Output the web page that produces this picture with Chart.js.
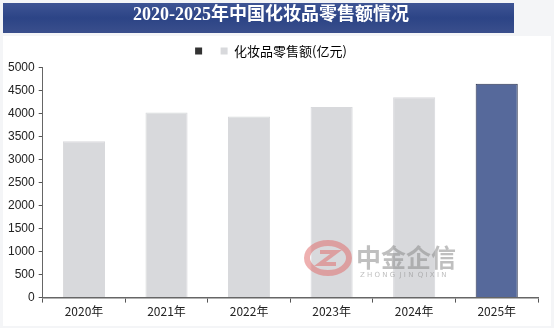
<!DOCTYPE html>
<html>
<head>
<meta charset="utf-8">
<script src="https://cdn.jsdelivr.net/npm/chart.js@4"></script>
<style>
  html, body { margin: 0; padding: 0; background: #f4f5f7; }
  #wrap { width: 554px; height: 328px; position: relative; }
</style>
</head>
<body>
<div id="wrap"><canvas id="salesChart" width="554" height="328"></canvas></div>
<script>
// 数据
const years = ["2020年", "2021年", "2022年", "2023年", "2024年", "2025年"];
const sales = [3400, 4026, 3936, 4142, 4357, 4650];
const yTicks = [0, 500, 1000, 1500, 2000, 2500, 3000, 3500, 4000, 4500, 5000];
const titleText = "2020-2025年中国化妆品零售额情况";
const seriesName = "化妆品零售额(亿元)";

const grey = "#d8d9dc";
const blue = "#56699b";
const barColors = years.map((y, i) => i === years.length - 1 ? blue : grey);
const borderColors = years.map((y, i) => i === years.length - 1 ? "#2d3550" : grey);

// 标题横幅 + 水印
const decor = {
  id: 'decor',
  beforeDraw(chart) {
    const ctx = chart.ctx;
    ctx.save();
    ctx.fillStyle = "#ffffff";
    ctx.fillRect(3, 36, 548, 290);
    const g = ctx.createLinearGradient(0, 3, 0, 33);
    g.addColorStop(0, "#3e5494");
    g.addColorStop(0.5, "#2c4486");
    g.addColorStop(1, "#3a4f8c");
    ctx.fillStyle = g;
    ctx.fillRect(3, 3, 511, 30);
    ctx.restore();
  },
  afterDatasetsDraw(chart) {
    const ctx = chart.ctx;
    ctx.save();
    ctx.globalAlpha = 0.55;
    ctx.strokeStyle = "#e07070";
    ctx.lineWidth = 6;
    ctx.beginPath();
    ctx.ellipse(328, 258, 21, 15, 0, 0, Math.PI * 2);
    ctx.stroke();
    ctx.lineWidth = 4;
    ctx.beginPath();
    ctx.moveTo(320, 252); ctx.lineTo(336, 252); ctx.lineTo(320, 264); ctx.lineTo(336, 264);
    ctx.stroke();
    ctx.fillStyle = "#8a8a8a";
    ctx.font = "bold 25px 'Noto Sans CJK SC'";
    ctx.textBaseline = "middle";
    ctx.fillText("中金企信", 356, 257);
    ctx.font = "7px 'DejaVu Sans'";
    ctx.fillText("Z H O N G  J I N  Q I X I N", 360, 275);
    ctx.restore();
  }
};

new Chart("salesChart", {
  type: "bar",
  data: {
    labels: years,
    datasets: [{
      label: seriesName,
      data: sales,
      backgroundColor: barColors,
      borderColor: borderColors,
      borderWidth: 1,
      barPercentage: 0.51,
      categoryPercentage: 1
    }]
  },
  plugins: [decor],
  options: {
    responsive: false,
    animation: false,
    layout: { padding: { left: 4, right: 16, top: 0, bottom: 7 } },
    plugins: {
      title: {
        display: true,
        text: titleText,
        color: "#ffffff",
        font: { family: "'Liberation Serif', 'Noto Sans CJK SC'", size: 18, weight: "bold" },
        padding: { top: 5, bottom: 6 },
        align: "center"
      },
      legend: {
        display: true,
        labels: {
          color: "#333",
          font: { family: "'Noto Sans CJK SC'", size: 13 },
          boxWidth: 7,
          boxHeight: 7,
          padding: 12,
          generateLabels(chart) {
            return [
              { text: "", fillStyle: "#333", strokeStyle: "#333", lineWidth: 0 },
              { text: seriesName, fillStyle: grey, strokeStyle: grey, lineWidth: 0 }
            ];
          }
        }
      },
      tooltip: { enabled: false }
    },
    scales: {
      x: {
        grid: {
          display: true,
          drawOnChartArea: false,
          drawTicks: true,
          tickLength: 5,
          color: "#555",
          offset: true
        },
        border: { color: "#666", width: 1.5 },
        ticks: { color: "#222", font: { family: "'Noto Sans CJK SC'", size: 12 }, padding: 2 }
      },
      y: {
        min: 0,
        max: 5000,
        afterBuildTicks(axis) { axis.ticks = yTicks.map(v => ({ value: v })); },
        grid: { drawOnChartArea: false, drawTicks: true, tickLength: 4, color: "#555" },
        border: { color: "#666", width: 1 },
        ticks: {
          color: "#222",
          font: { family: "'Liberation Sans'", size: 12 },
          padding: 4,
          callback: (v) => String(v)
        }
      }
    }
  }
});
</script>
</body>
</html>
